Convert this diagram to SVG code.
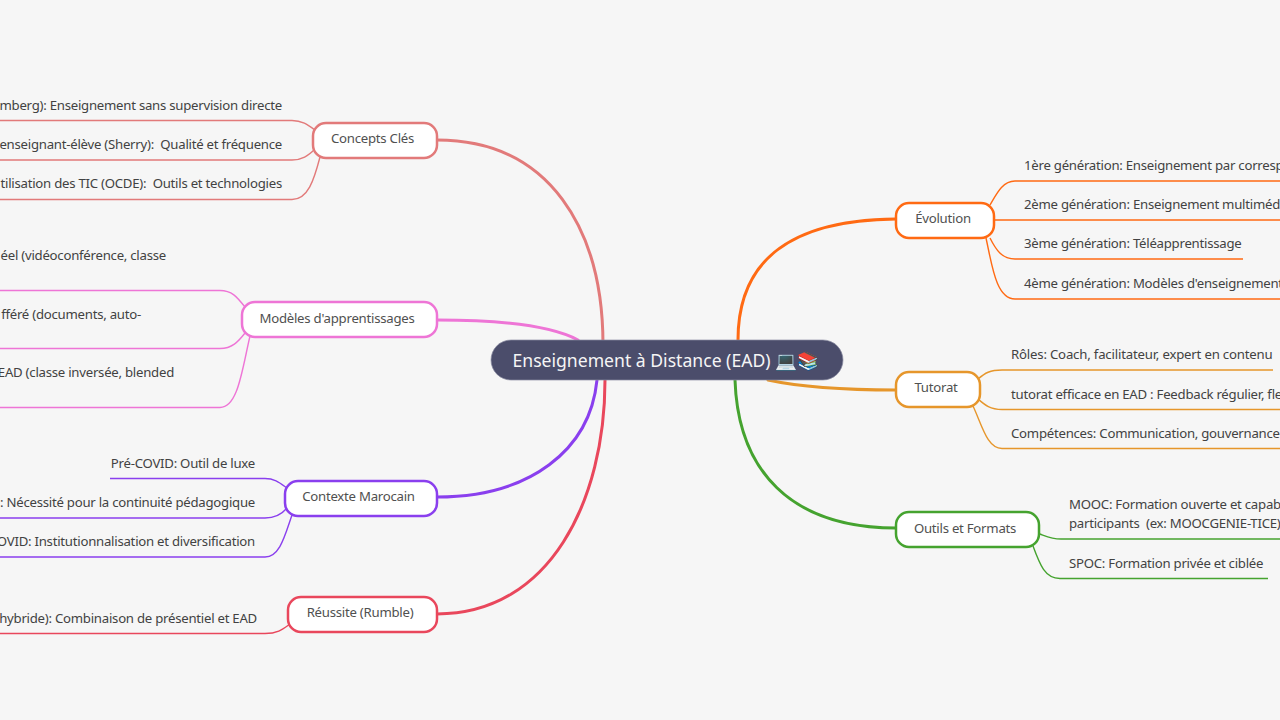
<svg xmlns="http://www.w3.org/2000/svg" width="1280" height="720" viewBox="0 0 1280 720">
<style>
text{font-family:"Noto Sans","Open Sans","Liberation Sans",sans-serif;font-size:13.2px;letter-spacing:-.25px;fill:#424242;white-space:pre}
.l{text-anchor:end}
.c{text-anchor:middle;fill:#505050}
.m{fill:none;stroke-width:3;stroke-linecap:round}
.b{fill:none;stroke-width:1.4}
.n{fill:#fff;stroke-width:2.5}
</style>
<rect width="1280" height="720" fill="#f6f6f6"/>
<g id="connectors">
<g stroke="#e27a7a"><path class="m" d="M603 345C603 230 550 140 437 140"/><path class="b" d="M0 120.500H292C302 120.500 308 125 315 130M0 160H292C302 160 308 156 315 149M0 199.500H292C308 199.500 314 180 320 157"/></g>
<g stroke="#ee75d6"><path class="m" d="M578 340C550 325 500 320 437 320"/><path class="b" d="M0 290.500H220C232 290.500 237 297 245 307M0 348.500H220C232 348.500 238 342 245 333M0 407.500H220C238 407.500 242 370 250 336"/></g>
<g stroke="#8a3fee"><path class="m" d="M597 380C590 450 530 497 437 497"/><path class="b" d="M110 478.500H265C275 478.500 280 483 287 488M0 518H265C275 518 282 514 287 508M0 557H265C280 557 285 535 292 515"/></g>
<g stroke="#e9475c"><path class="m" d="M605 380C605 500 550 614 437 614"/><path class="b" d="M0 633.500H265C278 633.500 283 629 290 624"/></g>
<g stroke="#ff6a13"><path class="m" d="M738 340C738 260 790 220 896 219"/><path class="b" d="M990 205C996 195 1002 181 1015 181H1280M994 220H1280M990 238C996 250 1002 259 1015 259H1243M986 238C992 265 996 299 1015 299H1280"/></g>
<g stroke="#e6962b"><path class="m" d="M768 380C800 387 850 390 896 390"/><path class="b" d="M978 379C985 373 990 370 1002 370H1273M978 399C985 405 990 409.500 1002 409.500H1280M973 406C982 425 987 448.500 1002 448.500H1280"/></g>
<g stroke="#45a32f"><path class="m" d="M735 380C738 470 790 528 896 528"/><path class="b" d="M1040 534C1048 537 1052 539 1061 539H1280M1033 546C1040 565 1045 578.500 1060 578.500H1268"/></g>
</g>
<g id="root"><rect x="491" y="340" width="352" height="40" rx="20" fill="#4b4d6b" stroke="#8d8ea3" stroke-width=".7"/><text x="512.500" y="366.500" style="font-size:17.600px;letter-spacing:0;fill:#f5f5f5">Enseignement à Distance (EAD) 💻📚</text></g>
<g id="n-concepts"><rect class="n" x="313" y="123" width="124" height="35" rx="13" stroke="#e27a7a"/><text class="c" x="372.500" y="142.500">Concepts Clés</text></g>
<g id="n-modeles"><rect class="n" x="242" y="302" width="195" height="35" rx="13" stroke="#ee75d6"/><text class="c" x="337" y="322.500">Modèles d'apprentissages</text></g>
<g id="n-contexte"><rect class="n" x="285" y="481" width="152" height="35" rx="13" stroke="#8a3fee"/><text class="c" x="358.500" y="501">Contexte Marocain</text></g>
<g id="n-reussite"><rect class="n" x="288" y="597" width="149" height="35" rx="13" stroke="#e9475c"/><text class="c" x="360" y="616.500">Réussite (Rumble)</text></g>
<g id="n-evolution"><rect class="n" x="896" y="203" width="98" height="35" rx="13" stroke="#ff6a13"/><text class="c" x="943" y="223">Évolution</text></g>
<g id="n-tutorat"><rect class="n" x="896" y="372" width="84" height="35" rx="13" stroke="#e6962b"/><text class="c" x="936" y="392">Tutorat</text></g>
<g id="n-outils"><rect class="n" x="896" y="512" width="143" height="35" rx="13" stroke="#45a32f"/><text class="c" x="965" y="532.500">Outils et Formats</text></g>
<g id="leaves">
<text class="l" x="282" y="109.500">mberg): Enseignement sans supervision directe</text>
<text class="l" x="282" y="148.500">enseignant-élève (Sherry):  Qualité et fréquence</text>
<text class="l" x="282" y="188">tilisation des TIC (OCDE):  Outils et technologies</text>
<text class="l" x="166" y="259.500">éel (vidéoconférence, classe</text>
<text class="l" x="141" y="318.500">fféré (documents, auto-</text>
<text class="l" x="174" y="376.500">EAD (classe inversée, blended</text>
<text class="l" x="255" y="467.500">Pré-COVID: Outil de luxe</text>
<text class="l" x="255" y="506.500">: Nécessité pour la continuité pédagogique</text>
<text class="l" x="255" y="546">OVID: Institutionnalisation et diversification</text>
<text class="l" x="257" y="622.500">hybride): Combinaison de présentiel et EAD</text>
<text x="1024" y="169.500">1ère génération: Enseignement par corresp</text>
<text x="1024" y="208.500">2ème génération: Enseignement multiméd</text>
<text x="1024" y="248">3ème génération: Téléapprentissage</text>
<text x="1024" y="287.500">4ème génération: Modèles d'enseignement</text>
<text x="1011" y="358.500" style="letter-spacing:-.19px">Rôles: Coach, facilitateur, expert en contenu</text>
<text x="1011" y="398.500">tutorat efficace en EAD : Feedback régulier, fle</text>
<text x="1011" y="438">Compétences: Communication, gouvernance</text>
<text x="1069" y="509">MOOC: Formation ouverte et capab</text>
<text x="1069" y="527.500">participants  (ex: MOOCGENIE-TICE)</text>
<text x="1069" y="567.500">SPOC: Formation privée et ciblée</text>
</g>
</svg>
